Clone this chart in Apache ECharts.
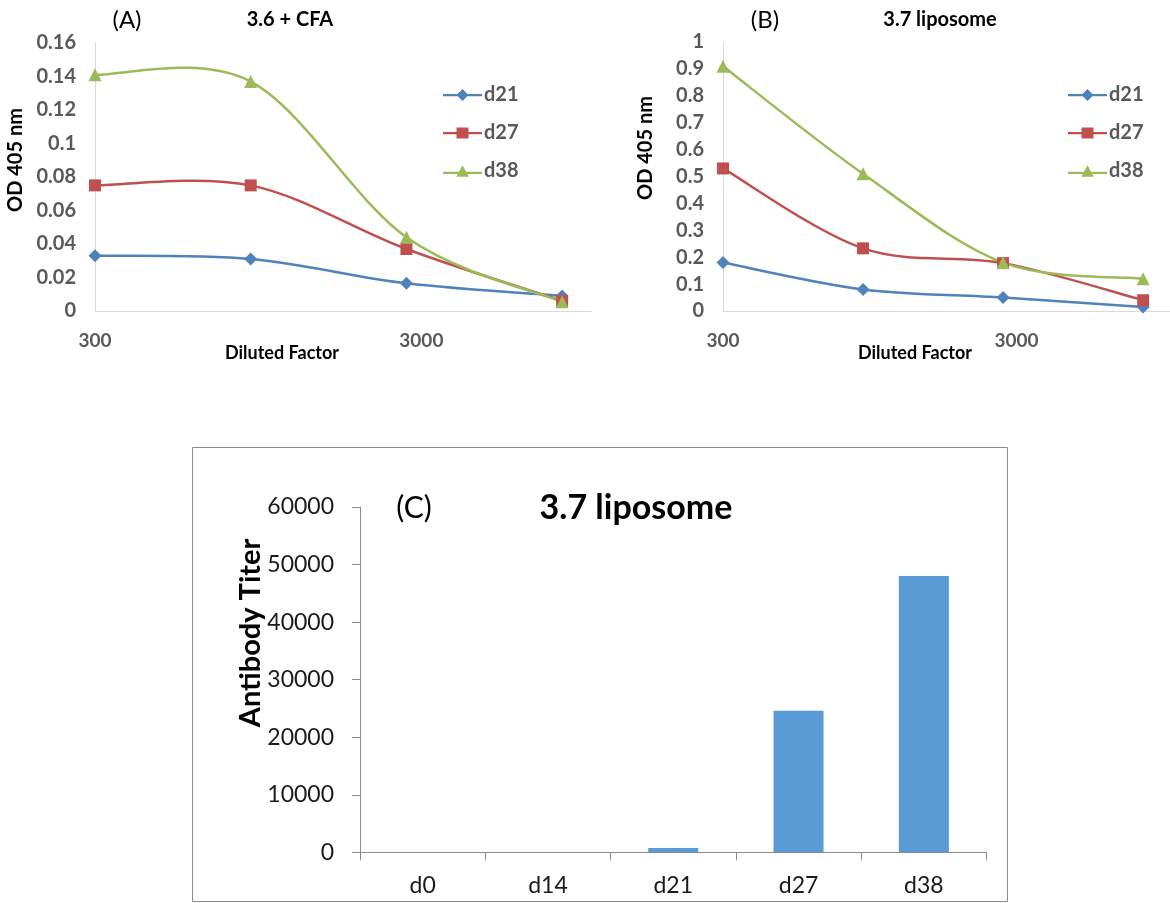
<!DOCTYPE html>
<html>
<head>
<meta charset="utf-8">
<script src="https://cdn.jsdelivr.net/npm/echarts@6/dist/echarts.min.js"></script>
<style>
html,body{margin:0;padding:0;background:#fff;}
#chart{width:1170px;height:903px;}
</style>
</head>
<body>
<div id="chart"></div>
<script>
// ---- data ----
const dilutions = [300, 900, 2700, 8100];
const xTickValues = [300, 3000];
const seriesNames = ['d21', 'd27', 'd38'];
const aD21 = [0.033, 0.031, 0.0165, 0.009];
const aD27 = [0.075, 0.075, 0.037, 0.006];
const aD38 = [0.141, 0.137, 0.044, 0.0055];
const bD21 = [0.18, 0.08, 0.05, 0.015];
const bD27 = [0.53, 0.233, 0.178, 0.04];
const bD38 = [0.91, 0.51, 0.18, 0.12];
const cCategories = ['d0', 'd14', 'd21', 'd27', 'd38'];
const cTiters = [0, 0, 750, 24600, 48000];

const FONT = 'Lato, "Open Sans", sans-serif';
const colors = ['#4F81BD', '#C0504D', '#9BBB59'];
const symbols = ['diamond', 'rect', 'triangle'];
const symSizes = [13, 12, 13];
const legendIcons = [
  'path://M0,5L39,5L39,7.2L0,7.2Z M19.5,0L25.5,6L19.5,12L13.5,6Z',
  'path://M0,5L39,5L39,7.2L0,7.2Z M13.5,0.5L25.5,0.5L25.5,11.5L13.5,11.5Z',
  'path://M0,7L39,7L39,9.2L0,9.2Z M19.5,0.5L25.8,12L13.2,12Z'
];
const base = xTickValues[0];
const xMaxDil = 10000;
const lx = d => Math.log10(d / base);

function pts(vals) { return dilutions.map((d, i) => [lx(d), vals[i]]); }

// markers (line itself drawn by curve series below)
function markerSeries(name, idx, vals, axis) {
  return {
    type: 'line', name: name, xAxisIndex: axis, yAxisIndex: axis,
    data: pts(vals),
    symbol: symbols[idx], symbolSize: symSizes[idx],
    lineStyle: { color: colors[idx], width: 0, opacity: 0 },
    itemStyle: { color: colors[idx] },
    z: 5 + idx
  };
}
// smooth curve through the points (Catmull-Rom style, like a spreadsheet smoothed line)
function curveSeries(idx, vals, axis) {
  return {
    type: 'custom', xAxisIndex: axis, yAxisIndex: axis, silent: true, z: 2 + idx,
    data: [[0, 0]],
    renderItem: function (params, api) {
      const p = dilutions.map((d, i) => api.coord([lx(d), vals[i]]));
      const children = [];
      const n = p.length;
      for (let i = 0; i < n - 1; i++) {
        const p0 = p[Math.max(i - 1, 0)], p1 = p[i], p2 = p[i + 1], p3 = p[Math.min(i + 2, n - 1)];
        children.push({
          type: 'bezierCurve',
          shape: {
            x1: p1[0], y1: p1[1],
            cpx1: p1[0] + (p2[0] - p0[0]) / 6, cpy1: p1[1] + (p2[1] - p0[1]) / 6,
            cpx2: p2[0] - (p3[0] - p1[0]) / 6, cpy2: p2[1] - (p3[1] - p1[1]) / 6,
            x2: p2[0], y2: p2[1]
          },
          style: { stroke: colors[idx], lineWidth: 2.5, fill: null }
        });
      }
      return { type: 'group', children: children };
    }
  };
}

const grayAxis = { show: true, lineStyle: { color: '#D9D9D9', width: 1 } };
const tickLbl = { color: '#595959', fontSize: 20, fontWeight: 'bold', fontFamily: FONT };

function xLog(gridIndex) {
  return {
    type: 'value', gridIndex: gridIndex, min: 0, max: lx(xMaxDil), interval: 1,
    axisLine: grayAxis, axisTick: { show: false }, splitLine: { show: false },
    axisLabel: Object.assign({}, tickLbl, {
      fontSize: 19, margin: 20, showMaxLabel: false,
      formatter: v => String(Math.round(base * Math.pow(10, v)))
    })
  };
}
function yVal(gridIndex, max, interval) {
  return {
    type: 'value', gridIndex: gridIndex, min: 0, max: max, interval: interval,
    axisLine: grayAxis, axisTick: { show: false }, splitLine: { show: false },
    axisLabel: Object.assign({}, tickLbl, { margin: 19 })
  };
}

function txt(text, x, y, size, bold, rot, color) {
  return {
    type: 'text', x: x, y: y, rotation: rot ? Math.PI / 2 : 0,
    style: {
      text: text, fontSize: size, fontWeight: bold ? 'bold' : 'normal',
      fontFamily: FONT, fill: color || '#000',
      align: 'center', verticalAlign: 'middle',
      textAlign: 'center', textVerticalAlign: 'middle'
    }
  };
}

function legend(left) {
  return {
    data: seriesNames.map((nm, i) => ({ name: nm, icon: legendIcons[i] })),
    orient: 'vertical', left: left, top: 85, padding: 0,
    itemWidth: 39, itemHeight: 12, itemGap: 18,
    textStyle: { color: '#595959', fontSize: 20, fontWeight: 'bold', fontFamily: FONT, lineHeight: 20, padding: [0, 0, 0, -3] },
    selectedMode: false
  };
}

const option = {
  animation: false,
  backgroundColor: '#fff',
  textStyle: { fontFamily: FONT },
  grid: [
    { left: 95, top: 43, right: 1170 - 592, bottom: 903 - 311 },
    { left: 723, top: 42, right: -5, bottom: 903 - 311 },
    { left: 360, top: 507, right: 1170 - 986.5, bottom: 903 - 852.3 }
  ],
  legend: [legend(443), legend(1068)],
  xAxis: [
    xLog(0), xLog(1),
    {
      type: 'category', gridIndex: 2, data: cCategories,
      axisLine: { show: true, lineStyle: { color: '#8C8C8C' } },
      axisTick: { show: true, length: 8, lineStyle: { color: '#8C8C8C' } },
      axisLabel: { color: '#1a1a1a', fontSize: 23, fontFamily: FONT, margin: 22 }
    }
  ],
  yAxis: [
    yVal(0, 0.16, 0.02), yVal(1, 1, 0.1),
    {
      type: 'value', gridIndex: 2, min: 0, max: 60000, interval: 10000,
      axisLine: { show: true, lineStyle: { color: '#8C8C8C' } },
      axisTick: { show: true, length: 8, lineStyle: { color: '#8C8C8C' } },
      splitLine: { show: false },
      axisLabel: { color: '#1a1a1a', fontSize: 23, fontFamily: FONT, margin: 26, formatter: v => String(v) }
    }
  ],
  series: [
    curveSeries(0, aD21, 0), curveSeries(1, aD27, 0), curveSeries(2, aD38, 0),
    curveSeries(0, bD21, 1), curveSeries(1, bD27, 1), curveSeries(2, bD38, 1),
    markerSeries('d21', 0, aD21, 0),
    markerSeries('d27', 1, aD27, 0),
    markerSeries('d38', 2, aD38, 0),
    markerSeries('d21', 0, bD21, 1),
    markerSeries('d27', 1, bD27, 1),
    markerSeries('d38', 2, bD38, 1),
    {
      type: 'bar', name: 'titer', xAxisIndex: 2, yAxisIndex: 2,
      data: cTiters, barWidth: 50, itemStyle: { color: '#5B9BD5' }
    }
  ],
  graphic: [
    { type: 'rect', shape: { x: 192.5, y: 447.5, width: 815, height: 454 },
      style: { fill: 'none', stroke: '#8C8C8C', lineWidth: 1 }, z: -1 },
    txt('(A)', 127, 20, 24, false),
    txt('3.6 + CFA', 290, 20, 20, true),
    txt('(B)', 765, 20, 24, false),
    txt('3.7 liposome', 940, 20, 20, true),
    txt('OD 405 nm', 16, 160, 20, true, true),
    txt('OD 405 nm', 646, 148, 20, true, true),
    txt('Diluted Factor', 282, 353, 18, true),
    txt('Diluted Factor', 915, 353, 18, true),
    txt('(C)', 414, 508, 30, false),
    txt('3.7 liposome', 636, 508, 34, true),
    txt('Antibody Titer', 251, 633, 29, true, true)
  ]
};

const chart = echarts.init(document.getElementById('chart'), null, { renderer: 'canvas' });
chart.setOption(option);
</script>
</body>
</html>
